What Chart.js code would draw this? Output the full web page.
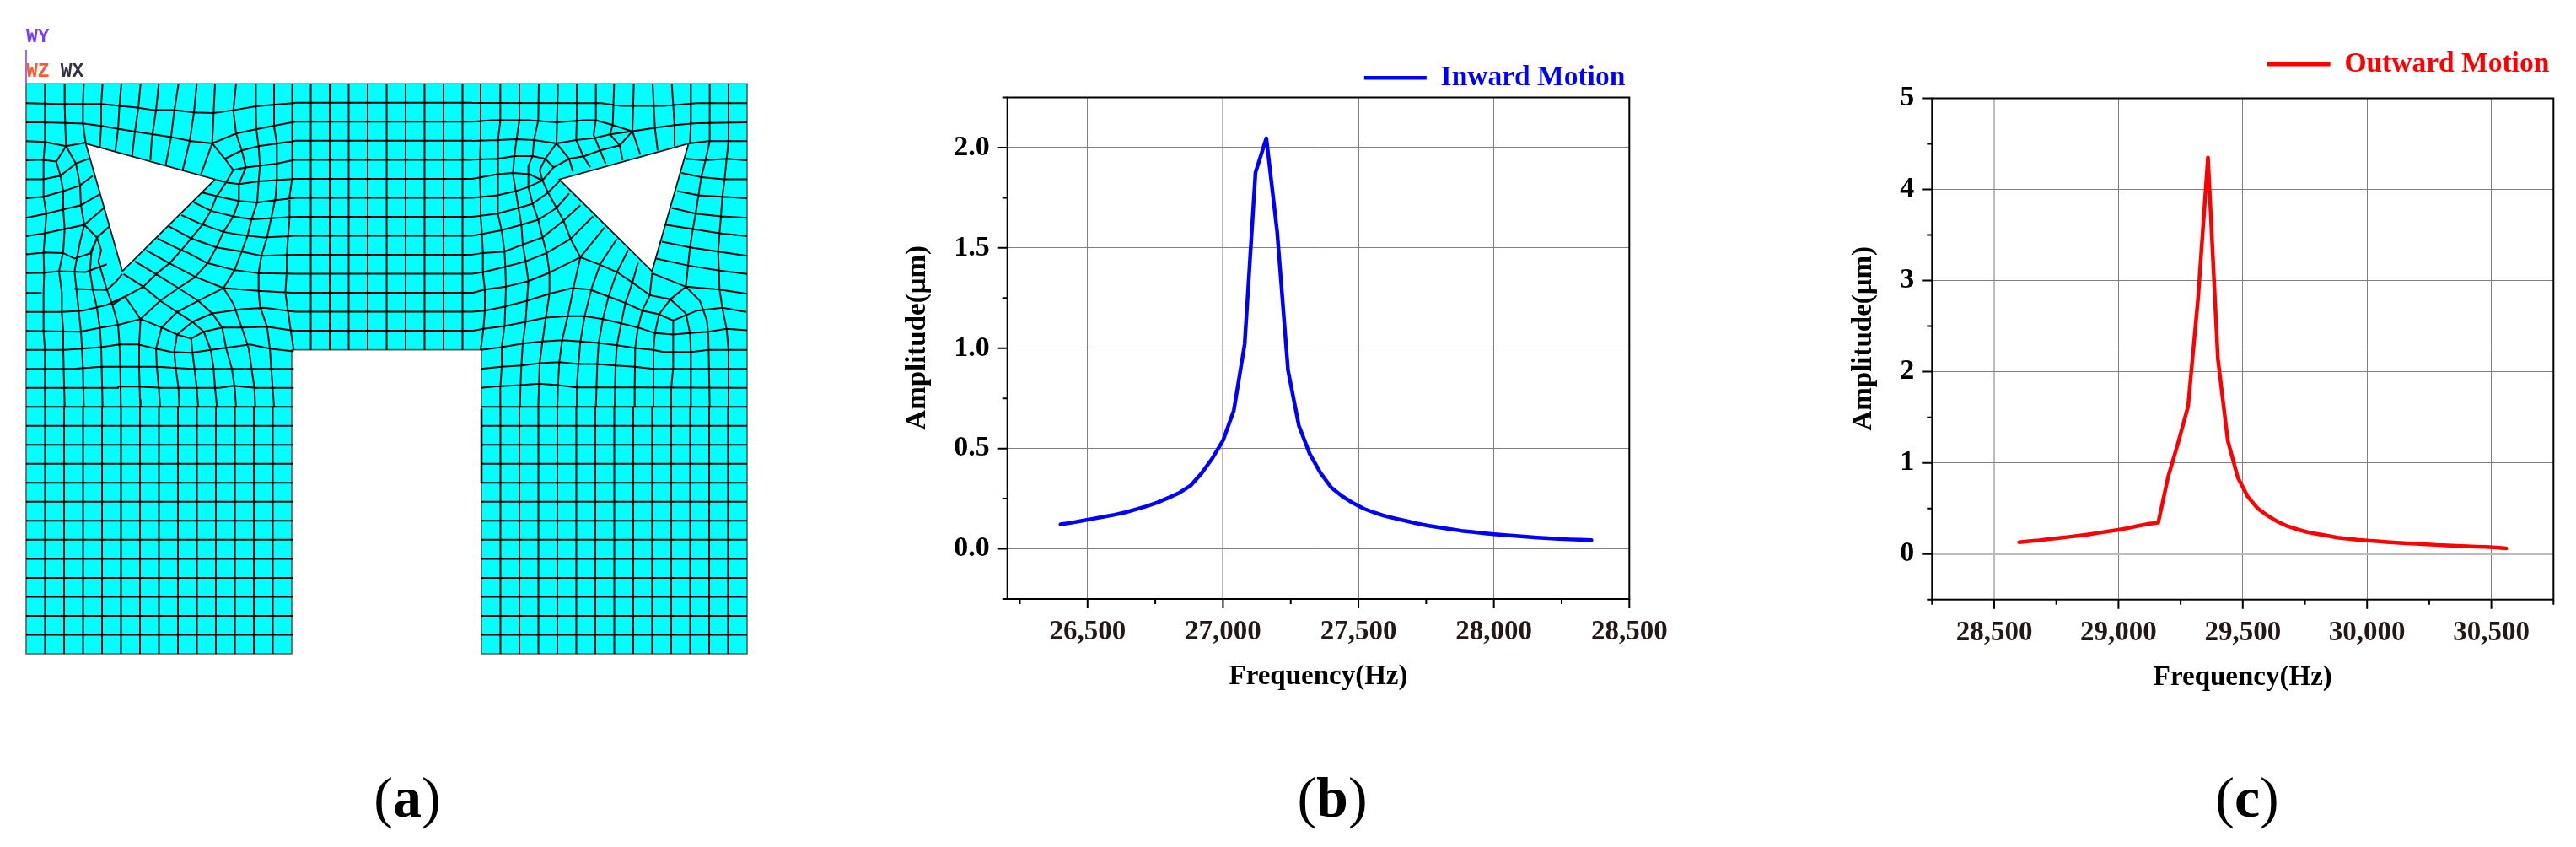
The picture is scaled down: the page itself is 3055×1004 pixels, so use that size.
<!DOCTYPE html>
<html><head><meta charset="utf-8">
<script src="https://cdn.jsdelivr.net/npm/chart.js@4/dist/chart.umd.min.js"></script>
<style>
html,body{margin:0;padding:0;background:#fff;width:3055px;height:1004px;overflow:hidden}
canvas{position:absolute}
.cap{position:absolute;top:906px;font:400 68px "Liberation Serif",serif;color:#000;transform:translateX(-50%);white-space:nowrap}
.cap b{font-weight:700}
</style></head><body>
<canvas id="a" style="left:0;top:0" width="920" height="830"></canvas>
<canvas id="b" style="left:1069px;top:40px" width="931" height="782"></canvas>
<canvas id="c" style="left:2191px;top:30px" width="864" height="793"></canvas>
<div class="cap" style="left:483px">(<b>a</b>)</div>
<div class="cap" style="left:1580px">(<b>b</b>)</div>
<div class="cap" style="left:2665px">(<b>c</b>)</div>
<script>
/* ---------- panel (b) ---------- */
const inwardFreq=[26400,26440,26480,26520,26560,26600,26640,26680,26720,26760,26800,26840,26880,26920,26960,27000,27040,27080,27120,27160,27200,27240,27280,27320,27360,27400,27440,27480,27520,27560,27600,27640,27680,27720,27760,27800,27840,27880,27920,27960,28000,28040,28080,28120,28160,28200,28240,28280,28320,28360];
const inwardAmp=[0.122,0.13,0.14,0.15,0.16,0.17,0.182,0.197,0.213,0.232,0.255,0.28,0.315,0.375,0.45,0.54,0.69,1.02,1.876,2.047,1.58,0.89,0.614,0.474,0.378,0.305,0.262,0.228,0.2,0.18,0.163,0.15,0.138,0.125,0.115,0.106,0.098,0.09,0.084,0.078,0.073,0.069,0.064,0.06,0.056,0.053,0.05,0.047,0.045,0.043];
const bXTicks=[26500,27000,27500,28000,28500];
const bXMinor=[26250,26750,27250,27750,28250];
const bYTicks=[0,0.5,1,1.5,2];
const bYMinor=[-0.25,0.25,0.75,1.25,1.75,2.25];
/* ---------- panel (c) ---------- */
const outwardFreq=[28600,28640,28680,28720,28760,28800,28840,28880,28920,28960,29000,29040,29080,29120,29160,29200,29240,29280,29320,29360,29400,29440,29480,29520,29560,29600,29640,29680,29720,29760,29800,29840,29880,29920,29960,30000,30040,30080,30120,30160,30200,30240,30280,30320,30360,30400,30440,30480,30520,30560];
const outwardAmp=[0.13,0.14,0.15,0.163,0.175,0.188,0.2,0.215,0.232,0.25,0.265,0.285,0.31,0.33,0.345,0.85,1.22,1.62,2.8,4.35,2.14,1.24,0.84,0.63,0.5,0.42,0.355,0.305,0.27,0.24,0.22,0.2,0.18,0.168,0.156,0.148,0.14,0.132,0.125,0.118,0.112,0.106,0.1,0.095,0.09,0.085,0.08,0.077,0.07,0.062];
const cXTicks=[28500,29000,29500,30000,30500];
const cXMinor=[28250,28750,29250,29750,30250,30750];
const cYTicks=[0,1,2,3,4,5];
const cYMinor=[-0.5,0.5,1.5,2.5,3.5,4.5];
/* ---------- panel (a): finite-element mesh, in mesh units ---------- */
const cellX=67.5, cellY=67.6;
const meshOutline=[[0,0],[38,0],[38,30],[24,30],[24,14],[14,14],[14,30],[0,30],[0,0]];
const holeLeft=[[3.14,3.14],[9.96,5.03],[5.07,9.87],[3.14,3.14]];
const holeRight=[[34.92,3.14],[28.1,5.03],[32.99,9.87],[34.92,3.14]];
const centerCols=[15,16,17,18,19,20,21,22,23];
const centerRows=[1,2,3,4,5,6,7,8,9,10,11,12,13];
const legRows=[17,18,19,20,21,22,23,24,25,26,27,28,29];
const legColsLeft=[1,2,3,4,5,6,7,8,9,10,11,12,13];
const legColsRight=[25,26,27,28,29,30,31,32,33,34,35,36,37];
const tileTL=[
[33,97,150,100,300,100,420,112,490,122,560,122,630,130,700,132,770,122,850,108,990,96],
[33,165,100,165,240,170,300,178,420,198,550,218,620,232,695,240,780,205,850,190,990,163],
[33,232,100,235,175,250,245,237],[740,295,800,265,860,250,990,231],[33,300,90,298,140,305],
[33,368,95,368,155,355,210,312,255,295],[33,435,95,430,165,410,225,390,270,355],
[33,505,105,490,165,475,228,460,300,418],[33,570,100,560,170,545,240,530,310,470],
[240,530,285,575,330,535],[33,635,100,628,165,630,205,650,260,632,285,578],
[770,335,820,325,925,312,990,298],[710,370,750,380,790,385,860,375,990,366],
[660,415,720,430,790,445,855,450,990,434],[630,450,690,480,770,500,835,510,990,501],
[585,495,650,525,735,555,790,565,880,575,990,569],[540,535,620,578,710,610,800,625,870,640,990,636],
[500,578,585,620,610,630],
[100,28,100,165,100,235,95,298,95,368,95,430,105,490,100,560,95,628],
[170,28,170,100,172,170,175,250,140,305,155,355,165,410,165,475,170,545,165,625],
[238,28,235,100,235,170,245,240],
[175,250,210,312,225,390,228,460,240,530,225,590,215,640],
[285,575,300,620,290,660],[285,575,265,630],
[305,28,300,100,300,178,295,255],[372,28,365,105,360,190,350,270],[440,28,432,115,420,198,410,285],
[505,28,495,122,480,225,475,300],[575,28,560,125,548,222,530,315],[640,28,630,130,615,232,590,335],
[705,28,700,132,695,240,655,350],
[780,28,770,122,780,205,800,265,815,325,770,335,740,295,695,240],
[850,28,850,108,852,190,860,250,865,320,860,375,855,450,835,510,820,570,800,625],
[915,28,915,100,915,180,925,240,925,312,925,370,920,435,905,505,890,575,870,640],
[980,28,980,360,970,430,970,505,965,570,960,640],
[770,335,745,378,710,430,690,480,660,530,620,578,585,620],
[815,325,790,385,790,445,770,500,735,555,710,610]
];
const tileBL=[
[33,72,97,70,150,65,245,68,320,40],[33,142,88,142],[205,128,270,130,320,132,350,105,375,75],
[33,210,160,210,235,205,320,185,385,155,450,120,495,75,545,35,585,-10],
[33,277,225,280,300,265,365,255,440,235,510,170,575,125,635,85,680,35,710,-20],
[33,345,170,345,300,335,365,325,430,325,495,340,550,352,620,355,690,345,830,325,900,340,985,350],
[33,412,200,412,300,405,500,405,620,412,760,412,985,412],
[33,480,360,480,360,475,430,475,520,480,720,480,770,472,850,480,985,480],
[380,75,450,120,510,170,570,210,625,245,695,215,800,200,880,195,990,209],
[420,30,495,75,575,125,645,170,695,215,730,265,800,265,890,262,990,277],
[460,-10,540,35,635,85,735,125,860,135,990,142],[610,0,675,35,770,60,860,72,990,74],
[515,265,570,210,645,170,735,125,775,60,800,-5],[340,185,385,155],
[440,235,515,265,570,290,620,305,665,280,730,265],[625,245,570,290],[625,245,665,280],
[95,-2,97,70,95,142,95,210,95,280,100,345,100,548],[165,-5,150,65,160,140,160,210,165,280,165,345,170,548],
[215,10,205,65,212,130,220,205,228,280,232,345,235,412,238,548],
[265,0,260,65,270,130,285,195,295,265,300,335,305,548],
[290,30,320,130,340,185,360,255,365,325,368,410,370,548],
[385,155,440,235,435,325,435,410,438,520,440,548],
[515,265,495,340,498,405,505,480,510,548],[570,290,560,350,565,410,575,480,578,548],
[620,305,625,355,632,412,640,480,645,548],[665,280,690,345,700,412,705,480,712,548],
[730,265,745,340,765,412,775,480,780,548],[800,265,825,340,835,412,845,480,848,548],
[735,125,770,180,800,265],[870,10,860,72,860,135,865,190,890,262,900,340,905,412,915,548],
[960,10,960,70,955,140,965,210,975,280,985,345]
];
const tileTR=[
[0,96,460,97,530,107,680,107,800,97,978,97],
[0,163,70,158,200,158,300,165,400,158,440,158,500,175,570,197,650,185,720,175,800,168,978,165],
[0,231,90,228,155,225,220,228,300,240,370,228,440,220,490,208,570,197],[770,240,840,232,978,232],
[0,298,90,295,150,285,215,285,260,295,290,325,345,295,400,285,455,265,525,247],[760,295,825,300,905,295,978,300],
[0,366,90,350,145,345,205,350,250,372,290,325],[745,345,815,360,895,368,978,368],
[0,434,90,425,155,410,200,395,250,372],[730,410,805,425,890,430,978,435],
[0,501,90,490,165,470,215,455,270,415,310,375],[710,470,795,490,885,500,978,505],
[0,569,100,550,175,530,235,512,300,470,345,418],[690,530,785,545,880,560,978,570],
[0,636,38,630,115,625,180,600,250,575,325,515,385,460],[675,590,775,610,875,625,978,640],
[0,704,40,698,115,680,190,660,265,630,350,580,430,500],
[385,645,470,540],
[515,580,455,670],[555,620,515,698],[590,665,570,735],
[30,28,30,165,30,232,28,300,28,368,30,430,30,500,35,565,38,630],
[100,28,100,160,92,225,90,295,90,350,92,425,92,490,105,550,115,625],
[168,28,168,158,158,225,150,285,145,348,155,410,165,470,175,530,180,600,190,660],
[237,28,235,158,220,228,215,285,200,320,200,395,215,455,235,512,250,575,265,630],
[305,28,300,240,260,295,240,335,250,372,270,415,300,470,325,515,350,580,385,645],
[300,240,345,295,358,340],[372,28,372,160,370,228,395,285,420,325],[440,28,440,155,432,210,455,265,475,312],
[505,28,500,175,490,208,525,247,535,300],[575,28,570,197,598,280],[570,197,525,247],
[642,28,650,185,660,265],[710,28,720,175,720,250],[778,28,778,168,775,238],
[845,28,845,232,830,300,815,360,805,425,795,490,785,545,775,610],
[912,28,912,232,905,295,898,368,890,430,885,500,880,560,875,625]
];
const tileBR=[
[385,15,455,42,515,68,570,105,632,150,705,165,760,120],
[355,125,420,130,485,155,545,178,605,205,665,218,715,240,800,205,890,195,975,210],
[640,72,760,120,880,130,978,145],[655,20,770,45,875,62,978,75],[275,70,385,15],
[0,142,45,130,120,120,200,100,275,70],[0,209,45,205,118,190,195,170,275,145,355,125],
[0,277,40,270,115,260,190,245,262,230,340,225,400,225,465,235,530,250,590,265,650,285,715,290,775,285,840,280,905,270,978,275],
[30,345,105,335,180,322,250,315,320,310,385,315,450,320,515,328,580,338,645,345,680,352,780,352,840,345,978,345],
[30,412,105,405,175,400,240,392,310,388,378,395,445,395,510,400,578,405,645,412,978,412],
[30,480,75,475,172,470,238,465,305,470,372,478,590,478,978,480],
[38,0,38,70,45,130,45,205,40,270,30,345],
[115,-5,118,50,120,120,118,190,115,260,105,335,105,405,100,480,100,548],
[190,30,200,100,195,170,190,245,180,322,175,400,172,470,170,548],
[265,0,275,70,275,145,262,230,250,315,240,392,238,465,235,548],
[385,15,360,125,340,225,320,310,310,388,305,470,303,548],
[455,42,425,125,400,225,385,315,378,395,372,478,372,548],
[515,68,485,155,465,235,450,320,445,395,440,548],
[570,105,545,178,530,250,515,328,510,400,507,548],
[632,150,605,205,590,265,580,338,578,475,578,548],
[705,165,665,218,650,285,645,345,645,412,645,548],
[715,240,715,410,708,480,708,548],[705,165,760,215,775,285,778,350,778,548],
[760,120,810,170,835,240,840,290,845,548],[775,-20,760,120],
[875,-5,880,130,890,195,905,270,912,345,912,548],[640,72,632,150]
];
const tileOrigins={TL:[-33,-28],BL:[-33,602],TR:[1587,-28],BR:[1587,602]};
const triadLabels=['WY','WZ','WX'];
const triadColors=['#7a3cff','#ff5a30','#333344'];
const triadX=[0,0,122];
const triadY=[-165,-43,-43];
const triadLine=[[0,-121],[0,0]];

function pts(list,sx,sy){return list.map(p=>({x:p[0]*sx,y:p[1]*sy}));}
const meshPoints=[];
function addLine(p){p.forEach(q=>meshPoints.push(q));meshPoints.push({x:NaN,y:NaN});}
[[tileTL,'TL'],[tileBL,'BL'],[tileTR,'TR'],[tileBR,'BR']].forEach(([t,k])=>{
  const o=tileOrigins[k];
  t.forEach(l=>{const p=[];for(let i=0;i<l.length;i+=2)p.push({x:l[i]+o[0],y:l[i+1]+o[1]});addLine(p);});
});
centerRows.forEach(r=>addLine([{x:14.18*cellX,y:r*cellY},{x:23.51*cellX,y:r*cellY}]));
centerCols.forEach(c=>addLine([{x:c*cellX,y:0},{x:c*cellX,y:14*cellY}]));
legRows.forEach(r=>{
  addLine([{x:0,y:r*cellY},{x:14.06*cellX,y:r*cellY}]);
  addLine([{x:24*cellX,y:r*cellY},{x:38*cellX,y:r*cellY}]);
});
legColsLeft.forEach(c=>addLine([{x:c*cellX,y:17*cellY},{x:c*cellX,y:30*cellY}]));
legColsRight.forEach(c=>addLine([{x:c*cellX,y:17*cellY},{x:c*cellX,y:30*cellY}]));

Chart.defaults.devicePixelRatio=1;
const serif='"Liberation Serif","Times New Roman",serif';

new Chart(document.getElementById('a'),{
  type:'scatter',
  data:{datasets:[
    {label:'hole L',data:pts(holeLeft,cellX,cellY),showLine:true,tension:0,fill:'shape',backgroundColor:'#fff',borderColor:'#111',borderWidth:1.8,pointRadius:0,order:0,clip:false},
    {label:'hole R',data:pts(holeRight,cellX,cellY),showLine:true,tension:0,fill:'shape',backgroundColor:'#fff',borderColor:'#111',borderWidth:1.8,pointRadius:0,order:0,clip:false},
    {label:'edge',data:[{x:24*cellX,y:17.1*cellY},{x:24*cellX,y:21*cellY}],showLine:true,tension:0,borderColor:'#000',borderWidth:2.5,pointRadius:0,order:1,clip:false},
    {label:'triad',data:triadLine.map(p=>({x:p[0],y:p[1]})),showLine:true,tension:0,borderColor:'#7a3cff',borderWidth:1.5,pointRadius:0,order:1,clip:false},
    {label:'mesh',data:meshPoints,showLine:true,spanGaps:false,tension:0,borderColor:'#080808',borderWidth:2,pointRadius:0,order:2,clip:false},
    {label:'body',data:pts(meshOutline,cellX,cellY),showLine:true,tension:0,fill:'shape',backgroundColor:'#00ffff',borderColor:'#5a5a5a',borderWidth:1.6,pointRadius:0,order:3,clip:false}
  ]},
  options:{responsive:false,animation:false,
    layout:{padding:{left:31,right:34,top:99.3,bottom:55}},
    scales:{x:{type:'linear',display:false,min:0,max:38*cellX},y:{type:'linear',display:false,reverse:true,min:0,max:30*cellY}},
    plugins:{legend:{display:false},tooltip:{enabled:false}}},
  plugins:[{id:'triad',afterDraw(ch){
    const c=ch.ctx;c.save();c.font='bold 23px "Liberation Mono",monospace';c.textBaseline='middle';c.textAlign='left';
    triadLabels.forEach((t,i)=>{c.fillStyle=triadColors[i];c.fillText(t,ch.scales.x.getPixelForValue(triadX[i]),ch.scales.y.getPixelForValue(triadY[i]));});
    c.restore();}}]
});

function response(id,cfg){
  const frame={id:'frame',
    afterLayout(ch){const l=ch.legend;l.left+=cfg.legendDx;l.right+=cfg.legendDx;l.top+=cfg.legendDy;l.bottom+=cfg.legendDy+8;},
    afterDatasetsDraw(ch){
      const c=ch.ctx,a=ch.chartArea,x=ch.scales.x,y=ch.scales.y;
      c.save();c.strokeStyle='#000';c.lineWidth=2;c.lineCap='butt';
      c.strokeRect(a.left,a.top,a.right-a.left,a.bottom-a.top);
      c.beginPath();
      cfg.xTicks.forEach(v=>{const p=x.getPixelForValue(v);c.moveTo(p,a.bottom);c.lineTo(p,a.bottom+11);});
      cfg.xMinor.forEach(v=>{const p=x.getPixelForValue(v);c.moveTo(p,a.bottom);c.lineTo(p,a.bottom+6);});
      cfg.yTicks.forEach(v=>{const p=y.getPixelForValue(v);c.moveTo(a.left,p);c.lineTo(a.left-12,p);});
      cfg.yMinor.forEach(v=>{const p=y.getPixelForValue(v);c.moveTo(a.left,p);c.lineTo(a.left-6,p);});
      c.stroke();c.restore();
    }};
  const font={family:serif,weight:'bold',size:33};
  return new Chart(document.getElementById(id),{
    type:'scatter',
    data:{datasets:[{label:cfg.label,data:cfg.freq.map((f,i)=>({x:f,y:cfg.amp[i]})),showLine:true,tension:0,
      borderColor:cfg.color,borderWidth:4.5,borderCapStyle:'round',borderJoinStyle:'round',
      pointRadius:0,pointStyle:'line',pointBorderColor:cfg.color,pointBorderWidth:4.5,pointBackgroundColor:cfg.color}]},
    options:{responsive:false,animation:false,
      layout:{padding:{left:0,right:cfg.padRight,top:cfg.padTop,bottom:0}},
      scales:{
        x:{type:'linear',min:cfg.xMin,max:cfg.xMax,
          afterBuildTicks(s){s.ticks=cfg.xTicks.map(v=>({value:v}));},
          afterFit(s){s.height=cfg.xH;s.paddingLeft=0;s.paddingRight=0;},
          ticks:{color:'#231815',font,padding:cfg.xPad,maxRotation:0,autoSkip:false,callback:v=>Number(v).toLocaleString('en-US')},
          border:{display:false},
          grid:{drawTicks:false,color:c=>c.tick&&c.tick.value===cfg.lightX?'#bcbcbc':'#808080',lineWidth:c=>c.tick&&c.tick.value===cfg.lightX?2:1},
          title:{display:true,text:'Frequency(Hz)',color:'#000',font,padding:0}},
        y:{type:'linear',min:cfg.yMin,max:cfg.yMax,
          afterBuildTicks(s){s.ticks=cfg.yTicks.map(v=>({value:v}));},
          afterFit(s){s.width=cfg.yW;s.paddingTop=0;s.paddingBottom=0;},
          ticks:{color:'#000',font:{family:serif,weight:'bold',size:34},padding:cfg.yPad,autoSkip:false,callback:cfg.yFmt},
          border:{display:false},
          grid:{drawTicks:false,color:c=>c.tick&&c.tick.value===cfg.lightY?'#bcbcbc':'#808080',lineWidth:c=>c.tick&&c.tick.value===cfg.lightY?2:1},
          title:{display:true,text:'   Amplitude(μm)',color:'#000',font,padding:0}}
      },
      plugins:{tooltip:{enabled:false},
        legend:{display:true,position:'top',align:'end',
          labels:{usePointStyle:true,pointStyle:'line',pointStyleWidth:cfg.legendLine,padding:0,color:cfg.color,
            font:{family:serif,weight:'bold',size:33.5},
            generateLabels:ch=>Chart.defaults.plugins.legend.labels.generateLabels(ch).map(i=>({...i,lineWidth:4.5,strokeStyle:cfg.color}))}}}},
    plugins:[frame]});
}
response('b',{label:'Inward Motion',color:'#0000ff',freq:inwardFreq,amp:inwardAmp,xMin:26204,xMax:28500,yMin:-0.25,yMax:2.25,
  xTicks:bXTicks,xMinor:bXMinor,yTicks:bYTicks,yMinor:bYMinor,lightX:27000,lightY:null,
  yFmt:v=>Number(v).toFixed(1),xH:112,yW:125.7,padRight:67.7,padTop:32,xPad:20,yPad:21,legendLine:74,legendDx:-5,legendDy:3.5});
response('c',{label:'Outward Motion',color:'#ff0000',freq:outwardFreq,amp:outwardAmp,xMin:28250,xMax:30750,yMin:-0.5,yMax:5,
  xTicks:cXTicks,xMinor:cXMinor,yTicks:cYTicks,yMinor:cYMinor,lightX:28500,lightY:0,
  yFmt:v=>String(v),xH:112.3,yW:100.3,padRight:26.7,padTop:43,xPad:20,yPad:21,legendLine:75,legendDx:-5,legendDy:-13.5});
</script>
</body></html>
